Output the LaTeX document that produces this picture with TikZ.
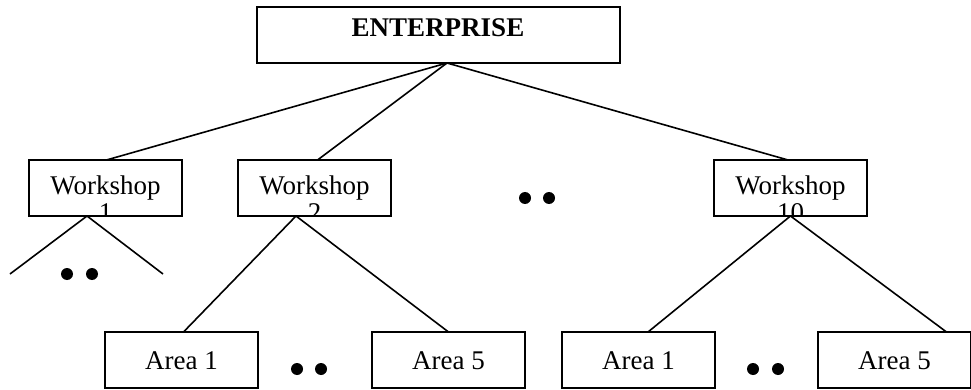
\documentclass[tikz,border=0pt]{standalone}
\usepackage{fontspec}
\setmainfont{Liberation Serif}
\usetikzlibrary{calc}
\begin{document}
\begin{tikzpicture}[x=1pt,y=-1pt,
  box/.style={draw,line width=1.8pt,minimum height=56pt,inner sep=0pt,outer sep=0pt,anchor=north west},
  wbox/.style={box,minimum width=153pt},
  lbl/.style={inner sep=0pt,anchor=base,font=\fontsize{27}{27}\selectfont},
  conn/.style={line width=1.6pt},
  dotm/.style={circle,fill,inner sep=0pt,minimum size=12pt}]
\useasboundingbox (0,0) rectangle (971,390);
% boxes
\node[box,minimum width=363pt] (ent) at (257,7) {};
\node[wbox] (ws1) at (29,160) {};
\node[wbox] (ws2) at (238,160) {};
\node[wbox] (ws10) at (714,160) {};
\node[wbox] (a2a) at (105,332) {};
\node[wbox] (a2b) at (372,332) {};
\node[wbox] (a10a) at (562,332) {};
\node[wbox] (a10b) at (818,332) {};
% labels
\node[lbl,font=\fontsize{27}{27}\selectfont\bfseries] (tent) at (438,37) {ENTERPRISE};
\foreach \w/\n in {ws1/1,ws2/2,ws10/10}{
  \node[lbl] (t\w) at ($(\w.north)+(0,35)$) {Workshop};
  \begin{scope}
    \clip (\w.north west) rectangle (\w.south east);
    \node[lbl] (n\w) at ($(\w.north)+(0,62)$) {\n};
  \end{scope}
}
\node[lbl] (ta2a) at ($(a2a.center)+(0,9)$) {Area 1};
\node[lbl] (ta2b) at ($(a2b.center)+(0,9)$) {Area 5};
\node[lbl] (ta10a) at ($(a10a.center)+(0,9)$) {Area 1};
\node[lbl] (ta10b) at ($(a10b.center)+(0,9)$) {Area 5};
% apex coordinates
\coordinate (eapex) at ($(ent.south)+(8.5,0)$);
\coordinate (w1apex) at ($(ws1.south)+(-18.5,0)$);
\coordinate (w2apex) at ($(ws2.south)+(-18.5,0)$);
\coordinate (w10apex) at (ws10.south);
\coordinate (w1l) at (10,274);
\coordinate (w1r) at (163,274);
% connectors
\draw[conn] (eapex) -- ($(ws1.north)+(1,0)$);
\draw[conn] (eapex) -- ($(ws2.north)+(3,0)$);
\draw[conn] (eapex) -- ($(ws10.north)+(-2.5,0)$);
\draw[conn] (w1apex) -- (w1l);
\draw[conn] (w1apex) -- (w1r);
\draw[conn] (w2apex) -- ($(a2a.north)+(2,0)$);
\draw[conn] (w2apex) -- ($(a2b.north)+(0,0)$);
\draw[conn] (w10apex) -- ($(a10a.north)+(9.5,0)$);
\draw[conn] (w10apex) -- ($(a10b.north)+(52,0)$);
% dots
\node[dotm] (d1a) at (67,274) {};
\node[dotm] (d1b) at (92,274) {};
\node[dotm] (dma) at (525,198) {};
\node[dotm] (dmb) at (549,198) {};
\node[dotm] (d2a) at (297,369) {};
\node[dotm] (d2b) at (321,369) {};
\node[dotm] (d3a) at (753,369) {};
\node[dotm] (d3b) at (778,369) {};
\end{tikzpicture}
\end{document}
